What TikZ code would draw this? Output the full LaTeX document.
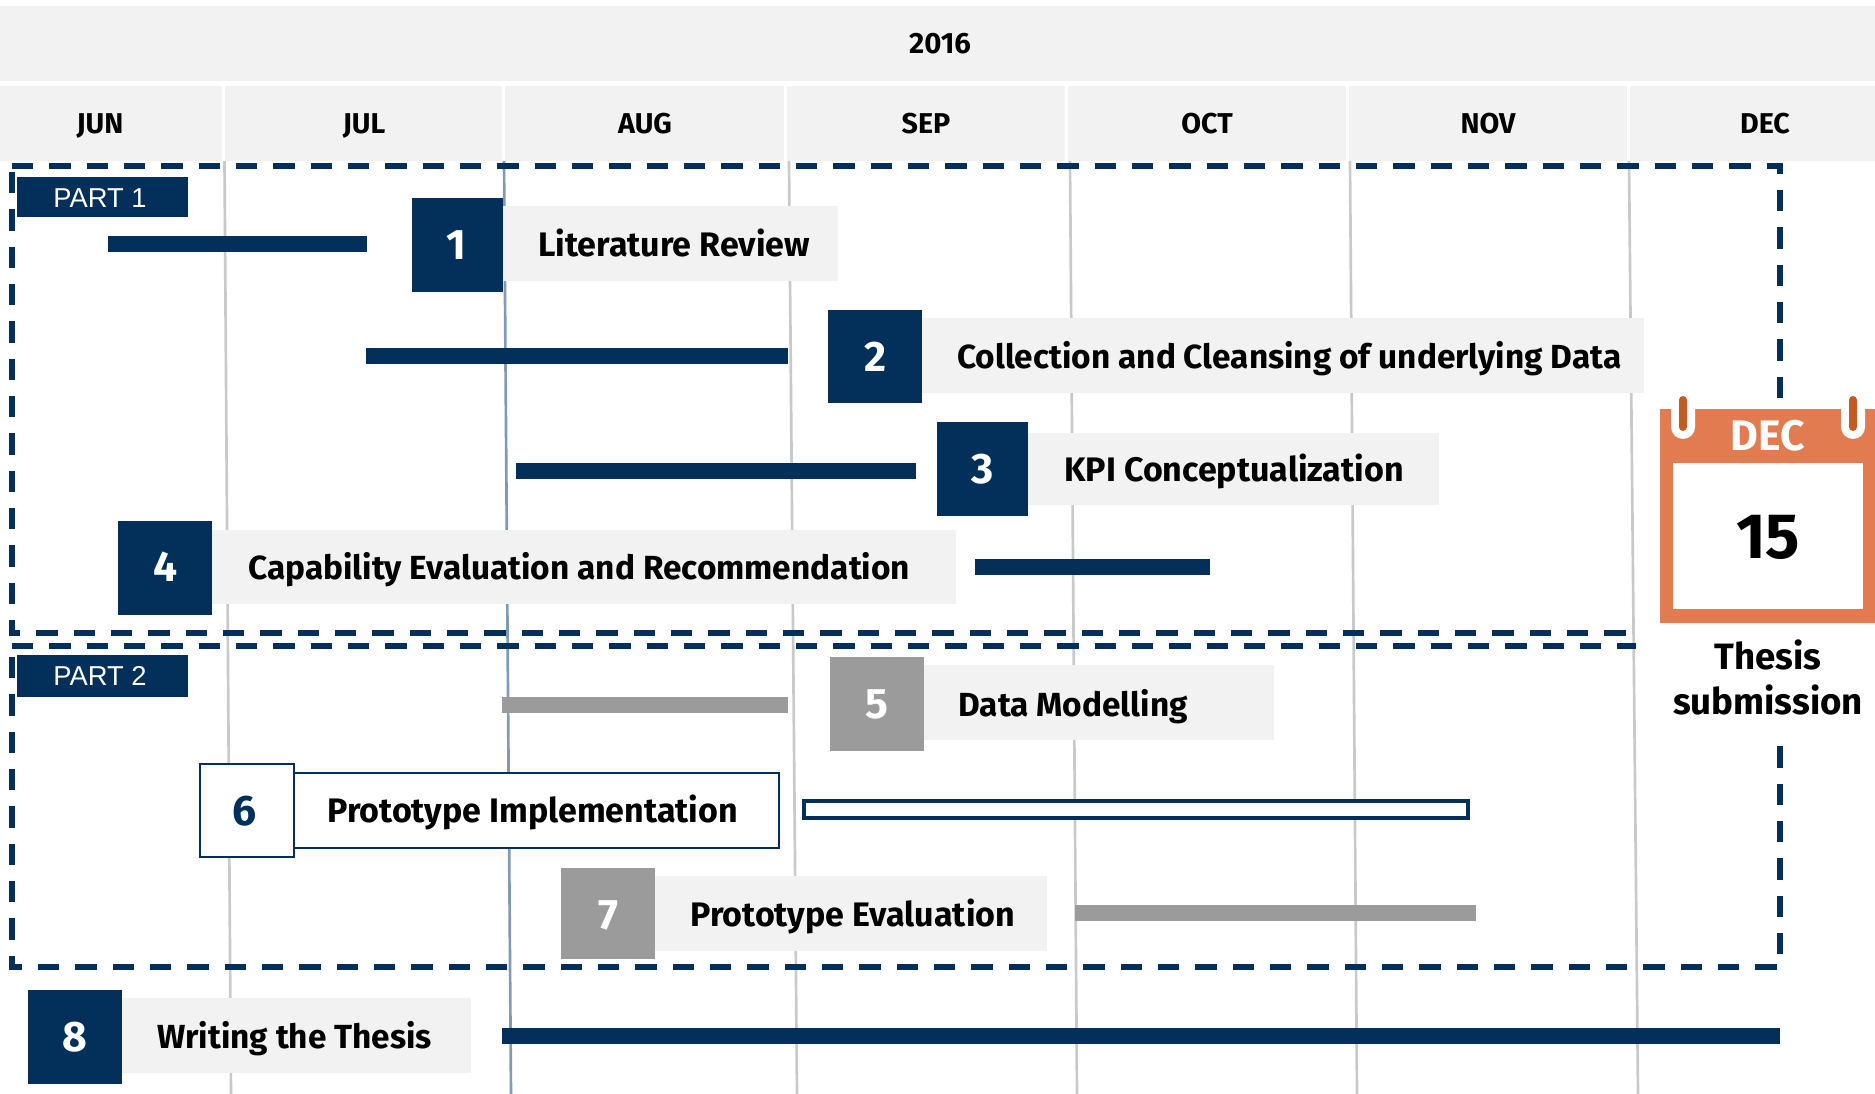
\documentclass[tikz,border=0pt]{standalone}
\usepackage{fontspec}
\setmainfont{Fira Sans}[UprightFont=* Bold,BoldFont=* Bold]
\newfontfamily\headfont{Fira Sans}[UprightFont=* Bold]
\newfontfamily\partfont{Liberation Sans}
\definecolor{navy}{HTML}{03305A}
\definecolor{band}{HTML}{F2F2F2}
\definecolor{midgray}{HTML}{9B9B9B}
\definecolor{grid}{HTML}{C9C9C9}
\definecolor{gridblue}{HTML}{7F9AB5}
\definecolor{cal}{HTML}{E27C50}
\definecolor{caldark}{HTML}{C55A22}
\tikzset{
  gridline/.style={draw=grid,line width=2pt},
  dashbox/.style={draw=navy,line width=3.8pt,dash pattern=on 16pt off 12pt},
  yeartext/.style={font=\headfont\fontsize{22}{25}\selectfont,inner sep=0pt,anchor=base},
  monthtext/.style={font=\headfont\fontsize{21.5}{24}\selectfont,inner sep=0pt,anchor=base},
  tasktext/.style={font=\fontsize{25.5}{30}\selectfont,inner sep=0pt,anchor=base west},
  tasktextsmall/.style={font=\fontsize{25.05}{30}\selectfont,inner sep=0pt,anchor=base west},
  numtext/.style={font=\headfont\fontsize{32}{38}\selectfont,text=white,inner sep=0pt,anchor=base},
  parttext/.style={font=\partfont\fontsize{20.5}{24}\selectfont,text=white,inner sep=0pt},
  sidetext/.style={font=\fontsize{27.5}{30}\selectfont,inner sep=0pt,anchor=base}
}
\newcommand{\boxfill}[5]{\fill[#1] (#2,#3) rectangle (#4,#5);}
\begin{document}
\begin{tikzpicture}[x=0.75pt,y=-0.75pt]
\useasboundingbox (0,0) rectangle (1875,1094);
% header bands
\boxfill{band}{0}{6}{1875}{81}
\boxfill{band}{0}{86}{1875}{161}
\foreach \sx in {223.5,503.5,785,1066,1347,1628}{\fill[white] (\sx-1.5,86) rectangle (\sx+1.5,161);}
\node[yeartext] (year) at (940,53.5) {2016};
\node[monthtext] (jun) at (100,134) {JUN};
\node[monthtext] (jul) at (364,134) {JUL};
\node[monthtext] (aug) at (645,134) {AUG};
\node[monthtext] (sep) at (926,134) {SEP};
\node[monthtext] (oct) at (1207,134) {OCT};
\node[monthtext] (nov) at (1488,134) {NOV};
\node[monthtext] (dec) at (1765,134) {DEC};
% grid lines
\draw[gridline] (224.5,161) -- (231,1094);
\draw[gridline,draw=gridblue] (504,161) -- (511,1094);
\draw[gridline] (789,161) -- (797,1094);
\draw[gridline] (1070,161) -- (1077,1094);
\draw[gridline] (1350,161) -- (1357,1094);
\draw[gridline] (1629,161) -- (1638,1094);
% dashed part frames
\draw[dashbox] (12,172) -- (12,633) -- (1630,633);
\draw[dashbox] (12,166) -- (1780,166) -- (1780,400);
\draw[dashbox] (12,646) -- (1636,646);
\draw[dashbox] (12,657) -- (12,967) -- (1780,967) -- (1780,746);
% part tags
\boxfill{navy}{17}{177}{188}{217}
\node[parttext] (part1) at (100,198.5) {PART 1};
\boxfill{navy}{17}{655}{188}{697}
\node[parttext] (part2) at (100,676) {PART 2};
% task 1
\boxfill{navy}{108}{236}{367}{252}
\boxfill{band}{503}{206}{838}{281}
\boxfill{navy}{412}{198}{503}{292}
\node[numtext] (n1) at (456,260) {1};
\node[tasktext] (t1) at (538,257) {Literature Review};
% task 2
\boxfill{navy}{366}{348}{788}{364}
\boxfill{band}{922}{318}{1644}{393}
\boxfill{navy}{828}{310}{922}{403}
\node[numtext] (n2) at (876,372) {2};
\node[tasktextsmall] (t2) at (957,369) {Collection and Cleansing of underlying Data};
% task 3
\boxfill{navy}{516}{463}{916}{479}
\boxfill{band}{1028}{433}{1439}{505}
\boxfill{navy}{937}{422}{1028}{516}
\node[numtext] (n3) at (983,484) {3};
\node[tasktext] (t3) at (1064,482) {KPI Conceptualization};
% task 4
\boxfill{navy}{975}{559}{1210}{575}
\boxfill{band}{212}{530}{956}{604}
\boxfill{navy}{118}{521}{212}{615}
\node[numtext] (n4) at (166,582) {4};
\node[tasktextsmall] (t4) at (248,580) {Capability Evaluation and Recommendation};
% task 5
\boxfill{midgray}{502}{697}{788}{713}
\boxfill{band}{924}{665}{1274}{740}
\boxfill{midgray}{830}{657}{924}{751}
\node[numtext] (n5) at (877,718) {5};
\node[tasktextsmall] (t5) at (958,716) {Data Modelling};
% task 6
\draw[navy,line width=3.6pt,fill=white] (804,801) rectangle (1468,818);
\draw[navy,line width=2pt,fill=white] (294,773) rectangle (779,848);
\draw[navy,line width=2pt,fill=white] (200,764) rectangle (294,857);
\node[numtext,text=navy] (n6) at (245,825) {6};
\node[tasktext] (t6) at (327,822) {Prototype Implementation};
% task 7
\boxfill{midgray}{1075}{905}{1476}{921}
\boxfill{band}{655}{876}{1047}{951}
\boxfill{midgray}{561}{868}{655}{959}
\node[numtext] (n7) at (608,929) {7};
\node[tasktext] (t7) at (690,926) {Prototype Evaluation};
% task 8
\boxfill{navy}{502}{1028}{1780}{1044}
\boxfill{band}{122}{998}{471}{1073}
\boxfill{navy}{28}{990}{122}{1084}
\node[numtext] (n8) at (75,1051) {8};
\node[tasktextsmall] (t8) at (157,1048) {Writing the Thesis};
% calendar
\boxfill{cal}{1660}{409}{1875}{623}
\boxfill{white}{1673}{463}{1863}{609}
\fill[white] (1671,409) -- (1695,409) -- (1695,427) arc[start angle=0,end angle=180,radius=12] -- cycle;
\fill[white] (1841,409) -- (1865,409) -- (1865,427) arc[start angle=0,end angle=180,radius=12] -- cycle;
\draw[caldark,line width=6pt,line cap=round] (1683,400) -- (1683,427);
\draw[caldark,line width=6pt,line cap=round] (1853,400) -- (1853,427);
\node[numtext] (caldec) at (1768,451) {DEC};
\node[font=\headfont\fontsize{48}{50}\selectfont,inner sep=0pt,anchor=base] (calday) at (1768,559) {15};
\node[sidetext] (side1) at (1768,669) {Thesis};
\node[sidetext] (side2) at (1768,714) {submission};
\end{tikzpicture}
\end{document}
